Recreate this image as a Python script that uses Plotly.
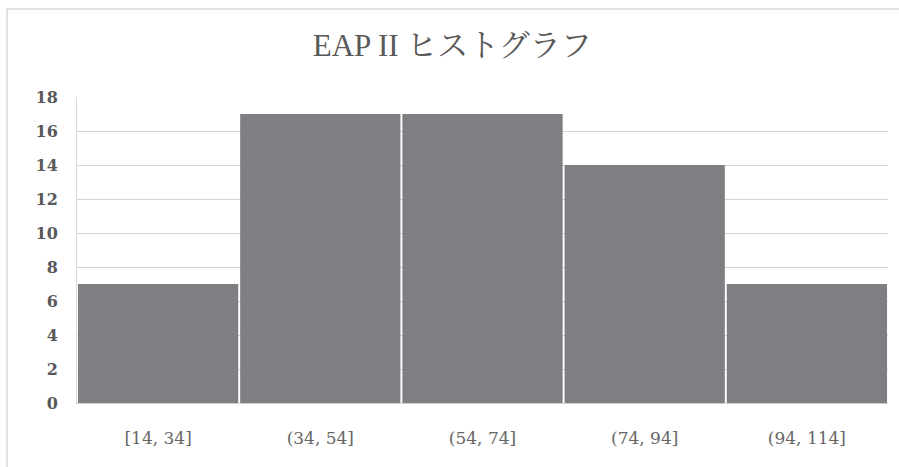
import plotly.graph_objects as go

categories = ["[14, 34]", "(34, 54]", "(54, 74]", "(74, 94]", "(94, 114]"]
counts = [7, 17, 17, 14, 7]
y_ticks = [0, 2, 4, 6, 8, 10, 12, 14, 16, 18]

W, H = 899, 467
L, R, T, B = 77, 11, 97, 64
pw, ph = W - L - R, H - T - B

fig = go.Figure(go.Bar(
    x=categories, y=counts,
    marker=dict(color="#7f7f83", line=dict(width=0)),
))

fig.update_layout(
    width=W, height=H,
    margin=dict(l=L, r=R, t=T, b=B),
    paper_bgcolor="white", plot_bgcolor="white",
    bargap=0.012,
    showlegend=False,
    title=dict(
        text="EAP II ヒストグラフ",
        x=0.503, xref="container", xanchor="center",
        y=1 - 45 / H, yanchor="middle",
        font=dict(family="Liberation Serif, Noto Serif CJK JP, Noto Sans CJK JP", size=31, color="#595959"),
    ),
    xaxis=dict(
        showgrid=False, showline=True, linecolor="#d0d0d0", linewidth=1,
        ticks="", ticklabelstandoff=20,
        tickfont=dict(family="DejaVu Serif", size=17, color="#666666"),
    ),
    yaxis=dict(
        range=[0, 18], tickvals=y_ticks,
        showgrid=True, gridcolor="#d4d4d4", gridwidth=1,
        showline=True, linecolor="#d9d9d9", linewidth=1,
        zeroline=False, ticks="", ticklabelstandoff=15,
        tickfont=dict(family="DejaVu Serif", size=16, color="#595959", weight="bold"),
    ),
    shapes=[dict(
        type="rect", xref="paper", yref="paper",
        x0=(7 - L) / pw, x1=1.2, y0=-0.5, y1=(H - B - 9) / ph,
        line=dict(color="#d9d9d9", width=1.5), fillcolor="rgba(0,0,0,0)",
        layer="below",
    )],
)

fig.write_html(
    "out.html",
    config={"displayModeBar": False},
    post_script="document.body.style.margin='0';document.body.style.overflow='hidden';",
)
